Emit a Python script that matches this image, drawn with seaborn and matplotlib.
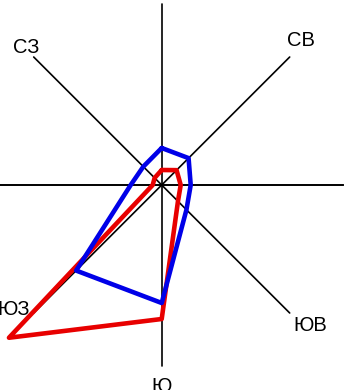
import numpy as np
import pandas as pd
import matplotlib
matplotlib.use("Agg")
import matplotlib.pyplot as plt
import seaborn as sns

# wind rose: 8 directions, two periods (values in chart units)
directions = ["С", "СВ", "В", "ЮВ", "Ю", "ЮЗ", "З", "СЗ"]
angles_deg = [90, 45, 0, -45, -90, -135, 180, 135]
blue_vals = [37, 38, 29, 35, 118, 121, 31, 26]
red_vals = [15, 21, 19, 23, 134, 216, 9, 10]

# labels shown on the picture
label_names = ["СЗ", "СВ", "ЮВ", "ЮЗ", "Ю"]
label_x = [-136, 139.5, 148.5, -148, 0]
label_y = [137.5, 144.5, -140.5, -124.5, -202]

AXIS_LEN = 181

sns.set_style("white")
plt.rcParams['font.family'] = ['Liberation Sans', 'DejaVu Sans']

fig = plt.figure(figsize=(3.44, 3.90), dpi=100)
ax = fig.add_axes([0, 0, 1, 1])


def to_frame(vals):
    a = np.deg2rad(angles_deg + angles_deg[:1])
    r = np.array(vals + vals[:1], dtype=float)
    return pd.DataFrame({"x": r * np.cos(a), "y": r * np.sin(a)})


# direction axes
for ang in [90, 45, 0, -45]:
    t = np.deg2rad(ang)
    ax.plot([-AXIS_LEN * np.cos(t), AXIS_LEN * np.cos(t)],
            [-AXIS_LEN * np.sin(t), AXIS_LEN * np.sin(t)],
            color="black", lw=1.2, zorder=1)
ax.axhline(0, color="black", lw=1.2, zorder=1)

sns.lineplot(data=to_frame(red_vals), x="x", y="y", sort=False, estimator=None,
             color="#e80000", lw=3.3, ax=ax, zorder=2)
sns.lineplot(data=to_frame(blue_vals), x="x", y="y", sort=False, estimator=None,
             color="#0000e8", lw=3.3, ax=ax, zorder=3)

for name, x, y in zip(label_names, label_x, label_y):
    ax.text(x, y, name, fontsize=14.5, ha="center", va="center", color="black")

ax.set_xlim(-161.7, 182.3)
ax.set_ylim(-205, 185)
ax.set_axis_off()

fig.savefig("out.png", dpi=100)
